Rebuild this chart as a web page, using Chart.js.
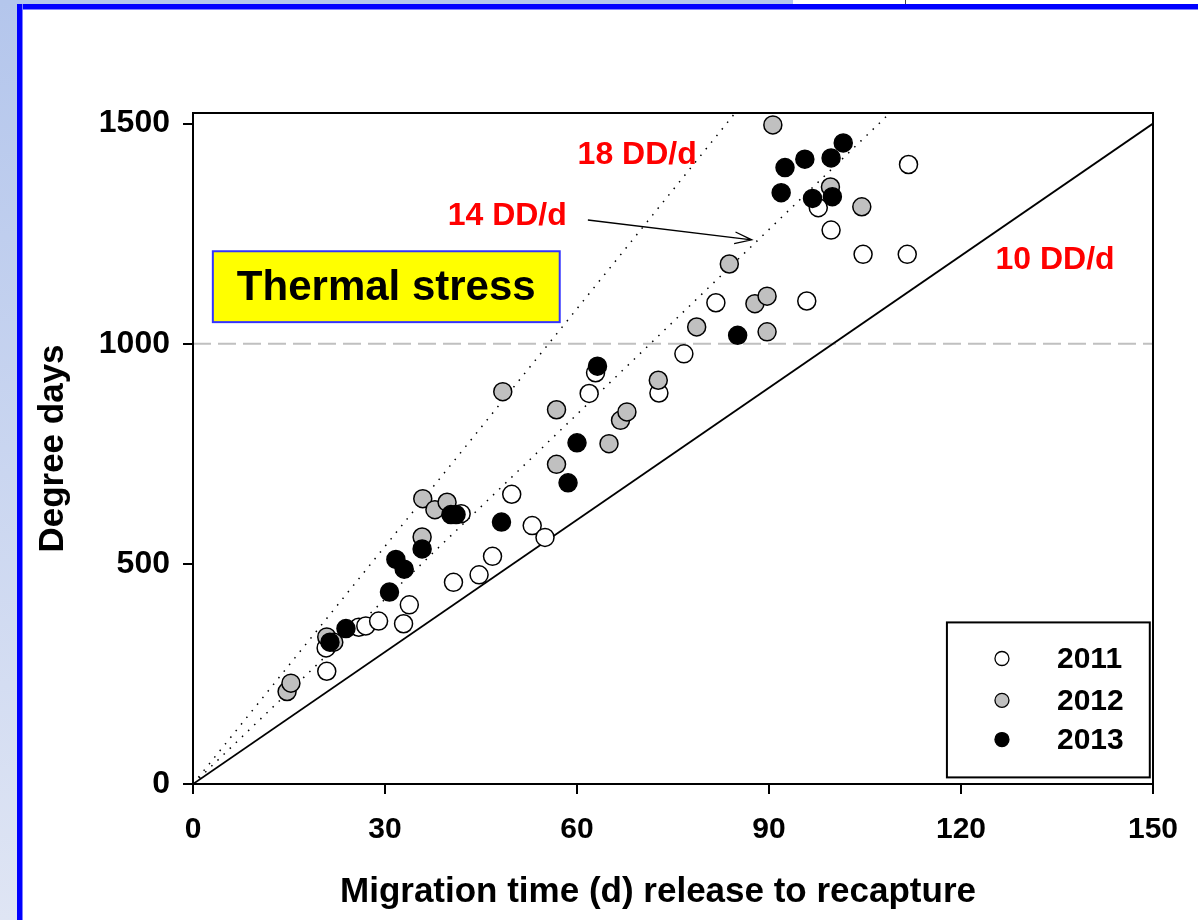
<!DOCTYPE html>
<html lang="en">
<head>
  <meta charset="UTF-8" />
  <title>Degree days vs migration time</title>
  <script src="https://cdn.jsdelivr.net/npm/chart.js@4"></script>
  <style>
    html, body { margin: 0; padding: 0; background: #fff; }
    body {
      width: 1198px; height: 920px;
      position: relative; overflow: hidden;
      font-family: "Liberation Sans", Arial, sans-serif;
    }
    .side { position: absolute; left: 0; top: 0; width: 17px; height: 920px; background: linear-gradient(#b4c6ec, #dfe5f4); }
    .topstrip { position: absolute; left: 0; top: 0; width: 793px; height: 4px; background: #b4c6ec; }
    .topmark { position: absolute; left: 905px; top: 0; width: 1px; height: 4px; background: #444; }
    .bar-top { position: absolute; left: 17px; top: 4px; right: 0; height: 5px; background: #0000ff; border-bottom: 1px solid #8080ff; }
    .bar-left { position: absolute; left: 17px; top: 4px; width: 5px; height: 916px; background: #0000ff; border-right: 1px solid #8080ff; }
    #wrap { position: absolute; left: 0; top: 0; width: 1198px; height: 920px; }
  </style>
</head>
<body>
  <div class="side"></div>
  <div class="topstrip"></div>
  <div class="topmark"></div>
  <div class="bar-top"></div>
  <div class="bar-left"></div>
  <div id="wrap"><canvas id="ddChart" width="1198" height="920"></canvas></div>

  <script>
    // axes
    const xTicks = [0, 30, 60, 90, 120, 150];
    const yTicks = [0, 500, 1000, 1500];

    // fish groups by year: migration time (d) and degree days
    const years = ['2011', '2012', '2013'];
    const days2011 = [20.9, 20.8, 25.9, 27.0, 29.0, 32.9, 33.8, 40.7, 44.7, 46.8, 41.9, 49.8, 53.0, 55.0, 61.9, 62.9, 72.8, 76.7, 81.7, 95.9, 97.7, 99.7, 104.7, 111.6, 111.8];
    const dd2011   = [256, 309, 356, 359, 370, 364, 407, 458, 475, 517, 614, 658, 587, 560, 887, 934, 888, 977, 1093, 1097, 1309, 1258, 1203, 1203, 1407];
    const days2012 = [14.7, 15.3, 20.9, 22.0, 35.8, 35.9, 37.8, 39.7, 48.4, 56.8, 56.8, 65.0, 66.8, 67.8, 72.7, 78.7, 83.8, 87.8, 89.7, 89.7, 90.6, 99.6, 104.5];
    const dd2012   = [210, 229, 334, 322, 561, 648, 623, 640, 891, 850, 726, 773, 826, 845, 917, 1038, 1181, 1091, 1108, 1027, 1497, 1356, 1311];
    const days2013 = [21.4, 23.9, 30.7, 31.7, 33.0, 35.8, 40.3, 41.1, 48.2, 58.6, 60.0, 63.2, 85.1, 91.9, 92.5, 95.6, 96.8, 99.7, 99.9, 101.6];
    const dd2013   = [322, 353, 436, 510, 488, 534, 612, 612, 595, 684, 775, 949, 1019, 1343, 1400, 1419, 1330, 1422, 1334, 1456];

    // reference rate lines (end points) and the 1000 DD threshold
    const line10x = [0, 150],   line10y = [0, 1500];
    const line14x = [0, 108.9], line14y = [0, 1524];
    const line18x = [0, 84.7],  line18y = [0, 1524];
    const limitX = [0, 150],    limitY = [1000, 1000];

    const rateLabels = ['10 DD/d', '14 DD/d', '18 DD/d'];

    const pts = (xs, ys) => xs.map((x, i) => ({ x: x, y: ys[i] }));
    const fills = ['#ffffff', '#c0c0c0', '#000000'];

    function lineSet(xs, ys, dash, color, width) {
      return {
        type: 'line', data: pts(xs, ys), showLine: true, pointRadius: 0,
        borderColor: color, borderWidth: width, borderDash: dash, fill: false, order: 10
      };
    }

    const FAM = '"Liberation Sans", Arial, sans-serif';
    const boldFont = size => ({ family: FAM, size: size, weight: 'bold' });

    // annotations, legend box, frame and x title
    const extras = {
      id: 'extras',
      afterDraw(chart) {
        const { ctx, chartArea: a, scales: { x, y } } = chart;
        const px = v => x.getPixelForValue(v);
        const py = v => y.getPixelForValue(v);
        ctx.save();

        // top + right frame
        ctx.strokeStyle = '#000';
        ctx.lineWidth = 2;
        ctx.strokeRect(a.left, a.top, a.right - a.left, a.bottom - a.top);

        // rate labels
        ctx.fillStyle = '#ff0000';
        ctx.font = 'bold 32px ' + FAM;
        ctx.textAlign = 'center';
        ctx.textBaseline = 'middle';
        ctx.fillText(rateLabels[2], px(69.4), py(1428));
        ctx.fillText(rateLabels[1], px(49.1), py(1289));
        ctx.fillText(rateLabels[0], px(134.7), py(1190));

        // arrow to the 14 DD/d line
        const x0 = px(61.7), y0 = py(1281), x1 = px(87.3), y1 = py(1236);
        ctx.strokeStyle = '#000';
        ctx.lineWidth = 1.3;
        ctx.beginPath();
        ctx.moveTo(x0, y0); ctx.lineTo(x1, y1);
        const ang = Math.atan2(y1 - y0, x1 - x0);
        ctx.moveTo(x1 - 18 * Math.cos(ang - 0.33), y1 - 18 * Math.sin(ang - 0.33));
        ctx.lineTo(x1, y1);
        ctx.lineTo(x1 - 18 * Math.cos(ang + 0.33), y1 - 18 * Math.sin(ang + 0.33));
        ctx.stroke();

        // thermal stress box
        const bx = px(3.1), by = py(1210), bw = px(57.3) - bx, bh = py(1049) - by;
        ctx.fillStyle = '#ffff00';
        ctx.fillRect(bx, by, bw, bh);
        ctx.strokeStyle = '#3333ff';
        ctx.lineWidth = 2;
        ctx.strokeRect(bx, by, bw, bh);
        ctx.fillStyle = '#000';
        ctx.font = 'bold 42px ' + FAM;
        ctx.fillText('Thermal stress', bx + bw / 2, by + bh / 2 + 2);

        // legend
        const lx = px(117.8), ly = py(367), lw = px(149.5) - lx, lh = py(15) - ly;
        ctx.fillStyle = '#fff';
        ctx.fillRect(lx, ly, lw, lh);
        ctx.strokeStyle = '#000';
        ctx.lineWidth = 2;
        ctx.strokeRect(lx, ly, lw, lh);
        const rows = [285, 190, 101];
        ctx.font = 'bold 30px ' + FAM;
        ctx.textAlign = 'left';
        years.forEach((yr, i) => {
          ctx.beginPath();
          ctx.arc(px(126.4), py(rows[i]), 7, 0, Math.PI * 2);
          ctx.fillStyle = fills[i];
          ctx.fill();
          ctx.lineWidth = 1.3;
          ctx.strokeStyle = '#000';
          ctx.stroke();
          ctx.fillStyle = '#000';
          ctx.fillText(yr, px(135), py(rows[i]) + 1);
        });

        // x axis title
        ctx.textAlign = 'center';
        ctx.font = 'bold 35px ' + FAM;
        ctx.fillText('Migration time (d) release to recapture', 658, 892);
        ctx.restore();
      }
    };

    const ptStyle = (xs, ys, i, order) => ({
      label: years[i], data: pts(xs, ys), pointRadius: 9, pointHoverRadius: 9,
      pointBackgroundColor: fills[i], pointBorderColor: '#000', pointBorderWidth: 1.5, order: order
    });

    new Chart(document.getElementById('ddChart'), {
      type: 'scatter',
      data: {
        datasets: [
          lineSet(line10x, line10y, [], '#000', 1.8),
          lineSet(line14x, line14y, [1.5, 7], '#000', 1.5),
          lineSet(line18x, line18y, [1.5, 7], '#000', 1.5),
          lineSet(limitX, limitY, [18, 7], '#c0c0c0', 2),
          ptStyle(days2011, dd2011, 0, 3),
          ptStyle(days2012, dd2012, 1, 2),
          ptStyle(days2013, dd2013, 2, 1)
        ]
      },
      options: {
        responsive: false,
        animation: false,
        layout: { padding: { top: 113, right: 45, bottom: 0, left: 0 } },
        plugins: { legend: { display: false }, tooltip: { enabled: false } },
        scales: {
          x: {
            type: 'linear', min: 0, max: 150,
            afterBuildTicks: s => { s.ticks = xTicks.map(v => ({ value: v })); },
            afterFit: s => { s.height = 136; },
            grid: { drawOnChartArea: false, color: '#000', lineWidth: 2, tickLength: 10 },
            border: { color: '#000', width: 2 },
            ticks: { color: '#000', font: boldFont(30), padding: 18, maxRotation: 0, callback: v => String(v) }
          },
          y: {
            type: 'linear', min: 0, max: 1524,
            afterBuildTicks: s => { s.ticks = yTicks.map(v => ({ value: v })); },
            afterFit: s => { s.width = 193; },
            grid: { drawOnChartArea: false, color: '#000', lineWidth: 2, tickLength: 10 },
            border: { color: '#000', width: 2 },
            ticks: { color: '#000', font: boldFont(32), padding: 13, callback: v => String(v) },
            title: { display: true, text: 'Degree days', color: '#000', font: boldFont(35), padding: { top: 32 } }
          }
        }
      },
      plugins: [extras]
    });
  </script>
</body>
</html>
